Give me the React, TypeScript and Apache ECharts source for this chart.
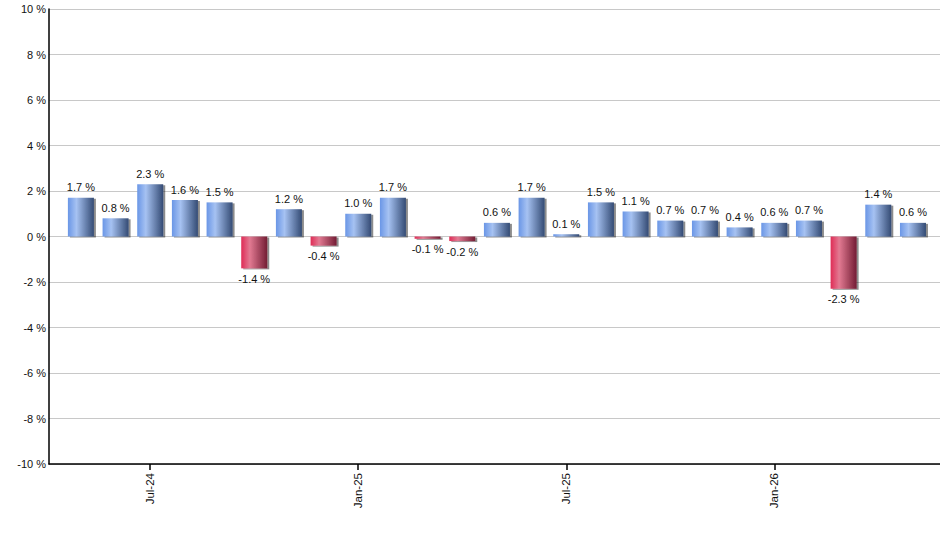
import React, { useEffect, useRef } from "react";
import * as echarts from "echarts";

const months = [
  "May-24", "Jun-24", "Jul-24", "Aug-24", "Sep-24", "Oct-24", "Nov-24", "Dec-24",
  "Jan-25", "Feb-25", "Mar-25", "Apr-25", "May-25", "Jun-25", "Jul-25", "Aug-25",
  "Sep-25", "Oct-25", "Nov-25", "Dec-25", "Jan-26", "Feb-26", "Mar-26", "Apr-26", "May-26",
];
const values = [
  1.7, 0.8, 2.3, 1.6, 1.5, -1.4, 1.2, -0.4, 1.0, 1.7, -0.1, -0.2, 0.6,
  1.7, 0.1, 1.5, 1.1, 0.7, 0.7, 0.4, 0.6, 0.7, -2.3, 1.4, 0.6,
];
const labeledIndices = [2, 8, 14, 20];
const yTicks = { min: -10, max: 10, interval: 2 };

const blueGrad = () =>
  new echarts.graphic.LinearGradient(0, 0, 1, 0, [
    { offset: 0, color: "#6a96e6" },
    { offset: 0.33, color: "#a6c2f2" },
    { offset: 1, color: "#344b74" },
  ]);
const redGrad = () =>
  new echarts.graphic.LinearGradient(0, 0, 1, 0, [
    { offset: 0, color: "#df2c56" },
    { offset: 0.33, color: "#e27a92" },
    { offset: 1, color: "#731c34" },
  ]);

export default function App() {
  const ref = useRef<HTMLDivElement>(null);
  useEffect(() => {
    if (!ref.current) return;
    const chart = echarts.init(ref.current, undefined, { renderer: "svg" });
    const font = "Liberation Sans, Arial, sans-serif";
    chart.setOption({
      animation: false,
      grid: { left: 49, right: 0, top: 9, bottom: 86, containLabel: false },
      xAxis: {
        type: "value",
        min: -0.92,
        max: 24.78,
        splitLine: { show: false },
        axisLine: { show: true, onZero: false, lineStyle: { color: "#000", width: 1.5 } },
        axisTick: {
          show: true,
          customValues: labeledIndices,
          length: 6,
          lineStyle: { color: "#000", width: 1.5 },
        },
        axisLabel: {
          customValues: labeledIndices,
          rotate: 90,
          margin: 9,
          color: "#111",
          fontSize: 11.5,
          fontFamily: font,
          formatter: (v: number) => months[Math.round(v)] ?? "",
        },
      },
      yAxis: {
        type: "value",
        min: yTicks.min,
        max: yTicks.max,
        interval: yTicks.interval,
        axisLine: { show: true, onZero: false, lineStyle: { color: "#000", width: 1.5 } },
        axisTick: { show: false },
        splitLine: { show: true, lineStyle: { color: "#c8c8c8", width: 1 } },
        axisLabel: {
          formatter: "{value} %",
          color: "#111",
          fontSize: 11,
          fontFamily: font,
          margin: 3,
        },
      },
      series: [
        {
          type: "bar",
          barWidth: 26,
          data: values.map((v, i) => ({
            value: [i, v],
            itemStyle: {
              color: v >= 0 ? blueGrad() : redGrad(),
              shadowColor: "rgba(0,0,0,0.45)",
              shadowOffsetX: 2,
              shadowOffsetY: 1,
              shadowBlur: 1,
            },
            label: { position: v >= 0 ? "top" : "bottom" },
          })),
          label: {
            show: true,
            distance: 5,
            color: "#111",
            fontSize: 11,
            fontFamily: font,
            formatter: (p: any) => `${p.value[1].toFixed(1)} %`,
          },
        },
      ],
    });
    return () => chart.dispose();
  }, []);
  return (
    <div
      ref={ref}
      style={{ position: "absolute", left: 0, top: 0, width: 940, height: 550, background: "#fff" }}
    />
  );
}
